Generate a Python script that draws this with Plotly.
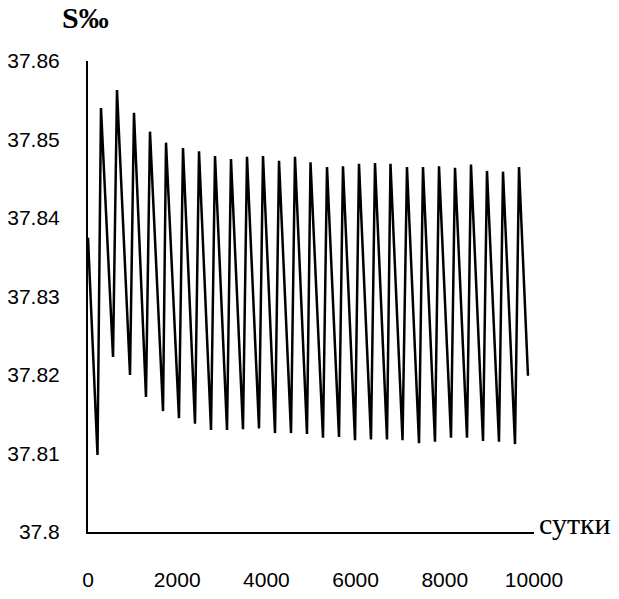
import plotly.graph_objects as go

# Data
start_day = 0
start_value = 37.8375

trough_days = [213, 561, 942, 1300, 1682, 2040, 2399, 2758, 3117, 3475, 3834, 4193, 4552, 4910,
               5269, 5628, 5987, 6345, 6704, 7052, 7422, 7780, 8139, 8498, 8857, 9215, 9574]
trough_values = [37.8098, 37.8223, 37.8200, 37.8172, 37.8154, 37.8145, 37.8138, 37.8130, 37.8130,
                 37.8131, 37.8132, 37.8126, 37.8126, 37.8125, 37.8120, 37.8121, 37.8117, 37.8118,
                 37.8118, 37.8117, 37.8113, 37.8115, 37.8120, 37.8120, 37.8116, 37.8115, 37.8112]

peak_days = [291, 650, 1031, 1390, 1749, 2130, 2489, 2848, 3206, 3565, 3924, 4283, 4641, 4989,
             5359, 5717, 6076, 6435, 6782, 7152, 7511, 7870, 8229, 8587, 8946, 9305, 9664]
peak_values = [37.8540, 37.8563, 37.8534, 37.8510, 37.8496, 37.8489, 37.8485, 37.8479, 37.8475,
               37.8478, 37.8479, 37.8473, 37.8478, 37.8471, 37.8465, 37.8466, 37.8469, 37.8470,
               37.8469, 37.8465, 37.8465, 37.8466, 37.8464, 37.8468, 37.8460, 37.8459, 37.8465]

end_day = 9865
end_value = 37.8199

y_tick_vals = [37.80, 37.81, 37.82, 37.83, 37.84, 37.85, 37.86]
y_tick_text = ["37.8", "37.81", "37.82", "37.83", "37.84", "37.85", "37.86"]
x_tick_vals = [0, 2000, 4000, 6000, 8000, 10000]
x_tick_text = ["0", "2000", "4000", "6000", "8000", "10000"]

# Interleave the series
days = [start_day]
values = [start_value]
for td, tv, pd_, pv in zip(trough_days, trough_values, peak_days, peak_values):
    days += [td, pd_]
    values += [tv, pv]
days.append(end_day)
values.append(end_value)

fig = go.Figure()
fig.add_trace(go.Scatter(x=days, y=values, mode="lines",
                         line=dict(color="black", width=2.5), showlegend=False,
                         hoverinfo="skip"))

tick_font = dict(family="Liberation Sans, Arial, sans-serif", size=21, color="black")

fig.update_layout(
    width=619, height=599,
    margin=dict(l=88, r=85, t=61, b=67),
    paper_bgcolor="white", plot_bgcolor="white",
    xaxis=dict(range=[0, 10000], tickvals=x_tick_vals, ticktext=x_tick_text, automargin=False,
               showgrid=False, zeroline=False, showline=True, linecolor="black", linewidth=2,
               ticks="outside", ticklen=28, tickcolor="rgba(0,0,0,0)", tickfont=tick_font),
    yaxis=dict(range=[37.80, 37.86], tickvals=y_tick_vals, ticktext=y_tick_text, automargin=False,
               showgrid=False, zeroline=False, showline=True, linecolor="black", linewidth=2,
               ticks="outside", ticklen=22, tickcolor="rgba(0,0,0,0)", tickfont=tick_font),
    annotations=[
        dict(text="<b>S‰</b>", xref="paper", yref="paper", x=-0.006, y=1.0913,
             xanchor="center", yanchor="middle", showarrow=False,
             font=dict(family="Liberation Serif, Times New Roman, serif", size=30, color="black")),
        dict(text="сутки", xref="paper", yref="paper", x=1.006, y=0.017,
             xanchor="left", yanchor="middle", showarrow=False,
             font=dict(family="Liberation Serif, Times New Roman, serif", size=30, color="black")),
    ],
)

fig.write_html("out.html", config={"displayModeBar": False},
               post_script="document.body.style.margin='0';document.body.style.overflow='hidden';")
